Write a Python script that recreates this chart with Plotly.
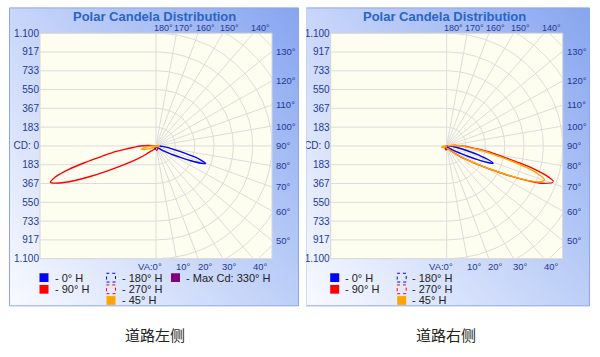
import math, zlib, struct, base64
import numpy as np
import plotly.graph_objects as go

W, H = 600, 357

# ---------------- data (vertical angle VA in degrees, candela) ----------------
# side 'R' = right half of the diagram, 'L' = left half (opposite plane)
# --- left chart: 道路左侧
L_0H_VA = [0, 20, 40, 50, 55, 58, 60, 63, 65, 67, 69, 70.6, 73, 75, 77, 80, 83, 86, 90, 95, 100]
L_0H_CD = [10, 12, 20, 38, 65, 95, 125, 200, 270, 370, 470, 513, 445, 330, 245, 150, 100, 65, 40, 15, 5]
L_90H_VA = [0, 10, 20, 30, 40, 45, 50, 55, 58, 60, 63, 65, 67, 69, 71, 73, 75, 77, 79, 82, 85, 88, 90, 93, 96, 100]
L_90H_CD = [25, 28, 32, 38, 60, 75, 130, 220, 300, 380, 545, 700, 870, 1010, 1090, 1020, 880, 700, 545, 400, 260, 190, 150, 80, 30, 10]
L_180H_VA = [0, 15, 30, 45, 60, 75, 90]
L_180H_CD = [30, 28, 22, 15, 10, 6, 3]
L_270H_VA = [0, 15, 30, 45, 60, 75, 90]
L_270H_CD = [45, 42, 32, 20, 10, 5, 2]
L_45H_L_VA = [0, 30, 50, 60, 65, 70, 74, 77, 80, 84, 88, 92, 96, 100]
L_45H_L_CD = [5, 8, 15, 30, 50, 85, 125, 146, 125, 85, 50, 25, 10, 3]
L_45H_R_VA = [0, 60, 80, 90, 95, 100, 110, 120]
L_45H_R_CD = [5, 10, 20, 30, 35, 25, 10, 3]

# --- right chart: 道路右侧
R_0H_VA = [0, 20, 40, 50, 55, 58, 60, 62, 64, 66, 68, 69.5, 72, 74, 76, 79, 82, 85, 89, 94, 100]
R_0H_CD = [10, 12, 20, 36, 62, 90, 118, 160, 230, 330, 430, 484, 420, 320, 235, 145, 95, 62, 38, 15, 5]
R_90H_VA = [0, 10, 20, 30, 40, 45, 50, 55, 58, 60, 63, 65, 67, 69, 71.4, 73, 75, 77, 79, 82, 85, 88, 90, 93, 96, 100]
R_90H_CD = [25, 28, 32, 38, 60, 78, 135, 225, 310, 390, 555, 710, 880, 1020, 1100, 1040, 900, 720, 560, 410, 270, 195, 155, 85, 32, 10]
R_180H_VA = [0, 15, 30, 45, 60, 75, 90]
R_180H_CD = [30, 28, 22, 15, 10, 6, 3]
R_270H_VA = [0, 15, 30, 45, 60, 75, 90]
R_270H_CD = [40, 38, 30, 18, 9, 4, 2]
R_45H_R_VA = [0, 10, 20, 30, 40, 45, 50, 55, 58, 60, 63, 65, 67, 69, 70.8, 73, 75, 77, 79, 82, 85, 88, 90, 93, 96, 100]
R_45H_R_CD = [22, 25, 30, 36, 58, 75, 130, 220, 305, 385, 550, 700, 860, 975, 1010, 930, 800, 640, 500, 370, 245, 175, 140, 75, 28, 8]
R_45H_L_VA = [0, 40, 60, 70, 75, 80, 85, 90, 95, 100]
R_45H_L_CD = [5, 10, 25, 40, 50, 45, 35, 20, 8, 2]

CD_MAX = 1100
CD_TICK_VALS = [1100, 916.7, 733.3, 550, 366.7, 183.3, 0, -183.3, -366.7, -550, -733.3, -916.7, -1100]
CD_TICK_TEXT = ["1.100", "917", "733", "550", "367", "183", "CD: 0", "183", "367", "550", "733", "917", "1.100"]
TOP_LABELS = [180, 170, 160, 150, 140]
RIGHT_LABELS = [130, 120, 110, 100, 90, 80, 70, 60, 50]
BOTTOM_LABELS = [0, 10, 20, 30, 40]
CAPTIONS = ["道路左侧", "道路右侧"]
TITLE = "Polar Candela Distribution"

C_BLUE, C_RED, C_ORANGE, C_PURPLE = "#0000FF", "#FF0000", "#FFA500", "#800080"

charts = [
    dict(series=[
        ("0° H", C_BLUE, "solid", "R", L_0H_VA, L_0H_CD),
        ("90° H", C_RED, "solid", "L", L_90H_VA, L_90H_CD),
        ("180° H", C_BLUE, "dash", "L", L_180H_VA, L_180H_CD),
        ("270° H", C_RED, "dash", "R", L_270H_VA, L_270H_CD),
        ("45° H", C_ORANGE, "solid", "L", L_45H_L_VA, L_45H_L_CD),
        ("45° H", C_ORANGE, "solid", "R", L_45H_R_VA, L_45H_R_CD),
    ], maxcd=True),
    dict(series=[
        ("0° H", C_BLUE, "solid", "R", R_0H_VA, R_0H_CD),
        ("90° H", C_RED, "solid", "R", R_90H_VA, R_90H_CD),
        ("180° H", C_BLUE, "dash", "L", R_180H_VA, R_180H_CD),
        ("270° H", C_RED, "dash", "L", R_270H_VA, R_270H_CD),
        ("45° H", C_ORANGE, "solid", "R", R_45H_R_VA, R_45H_R_CD),
        ("45° H", C_ORANGE, "solid", "L", R_45H_L_VA, R_45H_L_CD),
    ], maxcd=False),
]

# ---------------- layout geometry (pixels) ----------------
PLOT_Y0, PLOT_Y1 = 29, 261
PLOT_X0 = [40, 330.7]
PLOT_SIZE = 232
PANEL_X = [(9.5, 298.5), (306, 589.5)]
PANEL_Y = (3, 309.5)
OFFSETS = [0, 290.7]

def px(x):
    return x / W

def py(y):
    return 1 - y / H

TICK_COLOR = "#1F3A93"
FONT = "Liberation Sans"
GRID = "#DCDCDC"


def gradient_png(w, h, tl, tr, bl, br):
    rows = []
    for j in range(h):
        v = j / (h - 1)
        row = bytearray([0])
        for i in range(w):
            u = i / (w - 1)
            for k in range(3):
                c = (1 - u) * (1 - v) * tl[k] + u * (1 - v) * tr[k] + (1 - u) * v * bl[k] + u * v * br[k]
                row.append(int(round(c)))
        rows.append(bytes(row))
    raw = b"".join(rows)

    def chunk(t, d):
        return struct.pack(">I", len(d)) + t + d + struct.pack(">I", zlib.crc32(t + d) & 0xffffffff)

    png = (b"\x89PNG\r\n\x1a\n" + chunk(b"IHDR", struct.pack(">IIBBBBB", w, h, 8, 2, 0, 0, 0))
           + chunk(b"IDAT", zlib.compress(raw)) + chunk(b"IEND", b""))
    return "data:image/png;base64," + base64.b64encode(png).decode()


GRAD = gradient_png(64, 64, (200, 214, 250), (136, 166, 240), (248, 250, 255), (190, 208, 248))

fig = go.Figure()
shapes, annotations, images = [], [], []

for ci, ch in enumerate(charts):
    xa = "x" if ci == 0 else "x2"
    ya = "y" if ci == 0 else "y2"
    pol = "polar" if ci == 0 else "polar2"
    off = OFFSETS[ci]
    x0 = PLOT_X0[ci]
    x1 = x0 + PLOT_SIZE
    cx = x0 + PLOT_SIZE / 2

    # panel background + frame
    pxa, pxb = PANEL_X[ci]
    images.append(dict(source=GRAD, xref="paper", yref="paper", x=px(pxa), y=py(PANEL_Y[0]),
                       sizex=px(pxb) - px(pxa), sizey=(PANEL_Y[1] - PANEL_Y[0]) / H,
                       xanchor="left", yanchor="top", sizing="stretch", layer="below"))
    shapes.append(dict(type="rect", xref="paper", yref="paper", x0=px(pxa), x1=px(pxb),
                       y0=py(PANEL_Y[1]), y1=py(PANEL_Y[0]), line=dict(color="#8CA6E6", width=1),
                       fillcolor="rgba(0,0,0,0)", layer="below"))
    # plot area
    shapes.append(dict(type="rect", xref="paper", yref="paper", x0=px(x0), x1=px(x1),
                       y0=py(PLOT_Y1), y1=py(PLOT_Y0), line=dict(color="#D6D6D6", width=1),
                       fillcolor="#FEFEF0", layer="below"))

    # grid: horizontal lines on left half, arcs + radial lines on right half
    gx, gy = [], []
    for v in CD_TICK_VALS:
        gx += [-CD_MAX, 0, None]
        gy += [v, v, None]
    step = CD_MAX / 6
    th = np.radians(np.linspace(0, 180, 181))
    for k in range(1, 9):
        r = step * k
        gx += list(r * np.sin(th)) + [None]
        gy += list(-r * np.cos(th)) + [None]
    for a in range(0, 181, 10):
        t = math.radians(a)
        L = CD_MAX * 1.6
        gx += [0, L * math.sin(t), None]
        gy += [0, -L * math.cos(t), None]
    fig.add_trace(go.Scatter(x=gx, y=gy, mode="lines", line=dict(color=GRID, width=1),
                             hoverinfo="skip", showlegend=False, xaxis=xa, yaxis=ya))

    # data curves
    for name, color, dash, side, va, cd in ch["series"]:
        theta = [v if side == "R" else 360 - v for v in va]
        fig.add_trace(go.Scatterpolar(r=cd, theta=theta, mode="lines", subplot=pol, name=name,
                                      line=dict(color=color, width=1.4, dash=dash, shape="spline"),
                                      showlegend=False))

    # angle labels
    lf = dict(family=FONT, size=9.5, color=TICK_COLOR)
    lf_top = dict(family=FONT, size=9, color=TICK_COLOR)
    for a in TOP_LABELS:
        annotations.append(dict(xref=xa, yref=ya, x=CD_MAX * math.tan(math.radians(180 - a)), y=CD_MAX,
                                text=f"{a}°", showarrow=False, xanchor="left", yanchor="middle",
                                xshift=-3.5, yshift=5.5, font=lf_top, borderpad=0))
    for a in RIGHT_LABELS:
        annotations.append(dict(xref=xa, yref=ya, x=CD_MAX, y=CD_MAX * math.tan(math.radians(a - 90)),
                                text=f"{a}°", showarrow=False, xanchor="left", yanchor="middle",
                                xshift=3, font=lf, borderpad=0))
    for a in BOTTOM_LABELS:
        if a == 0:
            annotations.append(dict(xref=xa, yref=ya, x=0, y=-CD_MAX, text="VA:0°", showarrow=False,
                                    xanchor="right", yanchor="middle", xshift=7, yshift=-7.5, font=lf,
                                    borderpad=0))
        else:
            annotations.append(dict(xref=xa, yref=ya, x=CD_MAX * math.tan(math.radians(a)), y=-CD_MAX,
                                    text=f"{a}°", showarrow=False, xanchor="left", yanchor="middle",
                                    xshift=-1.5, yshift=-7.5, font=lf, borderpad=0))

    # title
    annotations.append(dict(xref="paper", yref="paper", x=px(cx - 2), y=py(11.5), text=f"<b>{TITLE}</b>",
                            showarrow=False, xanchor="center", yanchor="middle",
                            font=dict(family=FONT, size=13, color="#2A64C6")))

    # legend (drawn)
    leg_font = dict(family=FONT, size=11, color="#222222")
    items = [
        (39.5, 276, C_BLUE, "solid", "- 0° H"),
        (39.5, 288, C_RED, "solid", "- 90° H"),
        (106.5, 276, C_BLUE, "dash", "- 180° H"),
        (106.5, 288, C_RED, "dash", "- 270° H"),
        (106.5, 299.5, C_ORANGE, "solid", "- 45° H"),
    ]
    if ch["maxcd"]:
        items.append((171, 276, C_PURPLE, "solid", "- Max Cd: 330° H"))
    for lx, ly, col, dash, txt in items:
        lx += off
        if dash == "solid":
            shapes.append(dict(type="rect", xref="paper", yref="paper", x0=px(lx), x1=px(lx + 9),
                               y0=py(ly + 9), y1=py(ly), fillcolor=col, line=dict(width=0)))
        else:
            shapes.append(dict(type="rect", xref="paper", yref="paper", x0=px(lx), x1=px(lx + 9),
                               y0=py(ly + 9), y1=py(ly), fillcolor="rgba(0,0,0,0)",
                               line=dict(color=col, width=1, dash="3px,3px")))
        annotations.append(dict(xref="paper", yref="paper", x=px(lx + 13), y=py(ly + 4.5), text=txt,
                                showarrow=False, xanchor="left", yanchor="middle", font=leg_font))

    # caption
    annotations.append(dict(xref="paper", yref="paper", x=px(155 + off), y=py(339), text=CAPTIONS[ci],
                            showarrow=False, xanchor="center", yanchor="middle",
                            font=dict(family="Noto Sans CJK SC", size=15, color="#222222")))

# white gap between the two panels (right panel image is cropped on the left)
shapes.append(dict(type="rect", xref="paper", yref="paper", x0=px(299.2), x1=px(306.3), y0=0, y1=1,
                   fillcolor="white", line=dict(width=0), layer="above"))

axis_common = dict(range=[-CD_MAX, CD_MAX], fixedrange=True, showgrid=False, zeroline=False, showline=False)
yaxis_common = dict(axis_common, tickvals=CD_TICK_VALS, ticktext=CD_TICK_TEXT, ticks="",
                    tickfont=dict(family=FONT, size=10, color=TICK_COLOR))


def dom_x(i):
    return [px(PLOT_X0[i]), px(PLOT_X0[i] + PLOT_SIZE)]


dom_y = [py(PLOT_Y1), py(PLOT_Y0)]

polar_common = dict(bgcolor="rgba(0,0,0,0)",
                    radialaxis=dict(visible=False, range=[0, CD_MAX]),
                    angularaxis=dict(visible=False, rotation=-90, direction="counterclockwise"))

fig.update_layout(
    width=W, height=H, margin=dict(l=0, r=0, t=0, b=0),
    paper_bgcolor="white", plot_bgcolor="rgba(0,0,0,0)", showlegend=False,
    xaxis=dict(axis_common, domain=dom_x(0), visible=False, anchor="y"),
    yaxis=dict(yaxis_common, domain=dom_y, anchor="x"),
    xaxis2=dict(axis_common, domain=dom_x(1), visible=False, anchor="y2"),
    yaxis2=dict(yaxis_common, domain=dom_y, anchor="x2"),
    polar=dict(polar_common, domain=dict(x=dom_x(0), y=dom_y)),
    polar2=dict(polar_common, domain=dict(x=dom_x(1), y=dom_y)),
    shapes=shapes, annotations=annotations, images=images,
)

fig.write_html("out.html", config=dict(displayModeBar=False),
               post_script="document.body.style.margin='0';document.body.style.overflow='hidden';")
